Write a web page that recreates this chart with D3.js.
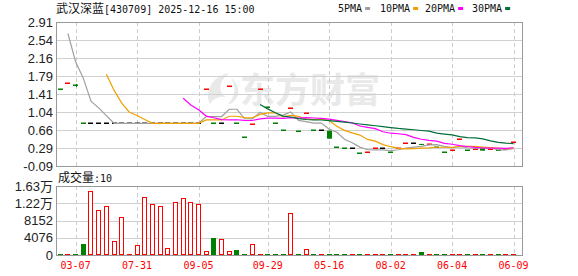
<!DOCTYPE html>
<html><head><meta charset="utf-8">
<script src="https://cdn.jsdelivr.net/npm/d3@7"></script>
<style>body{margin:0;background:#fff;} svg{display:block}</style>
</head><body><svg id="c" width="578" height="276"></svg>
<script>
// ---------- data ----------
const titleName = "武汉深蓝";
const titleRest = "[430709] 2025-12-16 15:00";
const volTitle = "成交量";
const volTitleRest = ":10";
const maNames = ["5PMA", "10PMA", "20PMA", "30PMA"];

const tickIndex = [2, 10, 18, 27, 35, 43, 51, 59];
const tickLabels = ["03-07", "07-31", "09-05", "09-29", "05-16", "08-02", "06-04", "06-09"];

const priceTicks = [2.91, 2.535, 2.16, 1.785, 1.41, 1.035, 0.66, 0.285, -0.09];
const priceTickLabels = ["2.91", "2.54", "2.16", "1.79", "1.41", "1.04", "0.66", "0.29", "-0.09"];
const volTicks = [16304, 12228, 8152, 4076, 0];
const volTickLabels = ["1.63万", "1.22万", "8152", "4076", "0"];

const closes = [1.50, 1.62, 1.59, 0.80, 0.80, 0.80, 0.80, 0.80, 0.80, 0.80,
  0.80, 0.80, 0.80, 0.80, 0.80, 0.80, 0.80, 0.80, 0.80, 1.50,
  0.80, 0.80, 1.56, 0.80, 0.51, 0.78, 1.50, 1.13, 0.80, 0.64,
  1.11, 0.62, 1.01, 0.64, 0.64, 0.48, 0.30, 0.28, 0.28, 0.18,
  0.20, 0.28, 0.28, 0.20, 0.28, 0.38, 0.38, 0.35, 0.36, 0.30,
  0.20, 0.24, 0.47, 0.24, 0.26, 0.23, 0.26, 0.24, 0.25, 0.40];
const opens = [1.50, 1.62, 1.59, 0.80, 0.80, 0.80, 0.80, 0.80, 0.80, 0.80,
  0.80, 0.80, 0.80, 0.80, 0.80, 0.80, 0.80, 0.80, 0.80, 1.50,
  0.80, 0.80, 1.56, 0.80, 0.51, 0.78, 1.50, 1.13, 0.80, 0.64,
  1.11, 0.62, 1.01, 0.64, 0.64, 0.645, 0.30, 0.28, 0.28, 0.18,
  0.20, 0.28, 0.28, 0.20, 0.28, 0.38, 0.38, 0.37, 0.36, 0.30,
  0.20, 0.24, 0.47, 0.24, 0.26, 0.285, 0.26, 0.24, 0.25, 0.40];
const highs = [1.50, 1.62, 1.62, 0.80, 0.80, 0.80, 0.80, 0.80, 0.80, 0.80,
  0.80, 0.80, 0.80, 0.80, 0.80, 0.80, 0.80, 0.80, 0.80, 1.50,
  0.80, 0.80, 1.56, 0.80, 0.51, 0.78, 1.50, 1.13, 0.80, 0.64,
  1.11, 0.62, 1.01, 0.64, 0.64, 0.645, 0.30, 0.28, 0.28, 0.18,
  0.20, 0.28, 0.28, 0.20, 0.28, 0.38, 0.38, 0.37, 0.36, 0.30,
  0.20, 0.24, 0.47, 0.24, 0.26, 0.285, 0.26, 0.24, 0.25, 0.40];
const lows = [1.50, 1.62, 1.555, 0.80, 0.80, 0.80, 0.80, 0.80, 0.80, 0.80,
  0.80, 0.80, 0.80, 0.80, 0.80, 0.80, 0.80, 0.80, 0.80, 1.50,
  0.80, 0.80, 1.56, 0.80, 0.51, 0.78, 1.50, 1.13, 0.80, 0.64,
  1.11, 0.62, 1.01, 0.64, 0.64, 0.48, 0.30, 0.28, 0.28, 0.18,
  0.20, 0.28, 0.28, 0.20, 0.28, 0.38, 0.38, 0.35, 0.36, 0.30,
  0.20, 0.24, 0.47, 0.24, 0.26, 0.23, 0.26, 0.24, 0.25, 0.40];
// 1 = up, -1 = down, 0 = unchanged
const direction = [-1, 1, -1, -1, 0, 0, 0, 0, 0, 0,
  0, 0, 0, 0, 0, 0, 0, 0, 0, 1,
  -1, 0, 1, -1, -1, 1, 1, -1, -1, -1,
  1, -1, 1, -1, 0, -1, -1, -1, 0, -1,
  1, 1, 0, -1, 1, 1, 0, -1, 1, -1,
  -1, 1, 1, -1, 1, -1, 1, -1, 1, 1];
const volumes = [150, 150, 150, 2533, 15037, 10526, 11476, 3403, 8864, 554,
  2453, 13613, 12109, 11476, 1741, 12426, 13375, 12426, 11951, 1029,
  3957, 3878, 870, 1108, 150, 2533, 150, 150, 150, 150,
  9813, 150, 1504, 150, 150, 150, 150, 150, 150, 150,
  150, 150, 150, 150, 150, 150, 150, 633, 150, 150,
  150, 150, 150, 150, 150, 150, 150, 150, 150, 150];

const ma5 = [null, 2.67, 2.08, 1.74, 1.262, 1.122, 0.958, 0.80, 0.80, 0.80,
  0.80, 0.80, 0.80, 0.80, 0.80, 0.80, 0.80, 0.80, 0.80, 0.94,
  0.94, 0.94, 1.092, 1.092, 0.894, 0.89, 1.03, 0.944, 0.944, 0.97,
  1.036, 0.86, 0.836, 0.804, 0.804, 0.678, 0.614, 0.468, 0.396, 0.304,
  0.248, 0.244, 0.244, 0.228, 0.248, 0.284, 0.304, 0.318, 0.35, 0.354,
  0.318, 0.29, 0.314, 0.29, 0.282, 0.288, 0.292, 0.246, 0.248, 0.276];
const ma10 = [null, null, null, null, null, null, 1.82, 1.49, 1.22, 1.031,
  0.961, 0.879, 0.80, 0.80, 0.80, 0.80, 0.80, 0.80, 0.80, 0.87,
  0.87, 0.87, 0.946, 0.946, 0.917, 0.915, 0.985, 1.018, 1.018, 0.932,
  0.963, 0.945, 0.89, 0.874, 0.887, 0.857, 0.737, 0.652, 0.60, 0.554,
  0.463, 0.429, 0.356, 0.312, 0.276, 0.266, 0.274, 0.281, 0.289, 0.301,
  0.301, 0.297, 0.316, 0.32, 0.318, 0.303, 0.291, 0.28, 0.269, 0.279];
const ma20 = [null, null, null, null, null, null, null, null, null, null,
  null, null, null, null, null, null, 1.32, 1.18, 1.08, 0.95,
  0.916, 0.875, 0.873, 0.873, 0.859, 0.858, 0.893, 0.909, 0.909, 0.901,
  0.917, 0.908, 0.918, 0.91, 0.902, 0.886, 0.861, 0.835, 0.809, 0.743,
  0.713, 0.687, 0.623, 0.593, 0.582, 0.562, 0.506, 0.467, 0.445, 0.428,
  0.382, 0.363, 0.336, 0.316, 0.297, 0.285, 0.283, 0.281, 0.279, 0.29];
const ma30 = [null, null, null, null, null, null, null, null, null, null,
  null, null, null, null, null, null, null, null, null, null,
  null, null, null, null, null, null, 1.19, 1.10, 1.02, 0.95,
  0.931, 0.898, 0.879, 0.873, 0.868, 0.857, 0.841, 0.823, 0.806, 0.785,
  0.765, 0.748, 0.731, 0.711, 0.693, 0.679, 0.665, 0.650, 0.636, 0.596,
  0.576, 0.557, 0.521, 0.502, 0.494, 0.475, 0.434, 0.404, 0.386, 0.378];

// ---------- drawing ----------
const maSeries = [ma5, ma10, ma20, ma30];
const maColors = ["#a0a0a0", "#f0a000", "#ff00ff", "#00703c"];
const RED = "#ff0000", GREEN = "#008000", BLACK = "#000000";
const CJK = "'Noto Sans CJK SC', sans-serif";
const MONO = "'DejaVu Sans Mono', monospace";
const SANS = "'Liberation Sans', Arial, 'Noto Sans CJK SC', sans-serif";

const L = 56, R = 522, PT = 22, PB = 166, VT = 186, VB = 255;
const svg = d3.select("#c");
const barIndex = d3.range(closes.length);

const x = d3.scaleBand().domain(barIndex).range([56.4, 517.4]);
const cx = i => x(i) + x.bandwidth() / 2;
const y = d3.scaleLinear().domain([-0.09, 2.91]).range([PB, PT]);
const yv = d3.scaleLinear().domain([0, 16304]).range([VB, VT]);

// watermark
const wm = svg.append("g").attr("fill", "#e9e9e9");
wm.append("text").attr("x", 240).attr("y", 103)
  .attr("font-family", CJK).attr("font-weight", "bold").attr("font-size", 35)
  .text("东方财富");
wm.append("path")
  .attr("d", "M229,73 C212,76 204,92 210,104 C214,98 220,96 226,97 C218,92 218,82 229,73 Z M231,78 C236,86 236,96 228,104 C234,104 240,96 238,88 C237,84 234,80 231,78 Z");

// grids
const grid = svg.append("g");
priceTicks.slice(1, -1).forEach(t => {
  grid.append("line").attr("x1", L).attr("x2", R)
    .attr("y1", Math.round(y(t)) + 0.5).attr("y2", Math.round(y(t)) + 0.5)
    .attr("stroke", "#d0d0d0");
});
volTicks.slice(1, -1).forEach(t => {
  grid.append("line").attr("x1", L).attr("x2", R)
    .attr("y1", Math.round(yv(t)) + 0.5).attr("y2", Math.round(yv(t)) + 0.5)
    .attr("stroke", "#d0d0d0");
});
tickIndex.forEach(i => {
  const xx = Math.round(cx(i)) + 0.5;
  [[PT, PB], [VT, VB]].forEach(([a, b]) => {
    grid.append("line").attr("x1", xx).attr("x2", xx).attr("y1", a).attr("y2", b)
      .attr("stroke", "#cccccc").attr("stroke-dasharray", "4,3");
  });
});

// frames
[[PT, PB], [VT, VB]].forEach(([a, b]) => {
  svg.append("rect").attr("x", L + 0.5).attr("y", a + 0.5)
    .attr("width", R - L).attr("height", b - a)
    .attr("fill", "none").attr("stroke", "#999999");
});

// candles
const colorOf = i => {
  if (closes[i] > opens[i]) return RED;
  if (closes[i] < opens[i]) return GREEN;
  return direction[i] > 0 ? RED : direction[i] < 0 ? GREEN : BLACK;
};
const cg = svg.append("g");
barIndex.forEach(i => {
  const c = colorOf(i);
  const xl = Math.round(cx(i) - 2.5);
  if (highs[i] > lows[i]) {
    cg.append("line").attr("x1", Math.round(cx(i)) + 0.5).attr("x2", Math.round(cx(i)) + 0.5)
      .attr("y1", y(highs[i])).attr("y2", y(lows[i])).attr("stroke", c);
  }
  if (opens[i] === closes[i]) {
    cg.append("rect").attr("x", xl).attr("y", Math.floor(y(closes[i])) - 0.5)
      .attr("width", 5).attr("height", 1.5).attr("fill", c);
  } else {
    const top = y(Math.max(opens[i], closes[i])), bot = y(Math.min(opens[i], closes[i]));
    cg.append("rect").attr("x", xl).attr("y", top)
      .attr("width", 5).attr("height", Math.max(1, bot - top)).attr("fill", c);
  }
});

// MA lines (on top of candles)
const line = d3.line().defined(d => d != null).x((d, i) => cx(i)).y(d => y(d));
maSeries.forEach((s, k) => {
  svg.append("path").datum(s).attr("d", line)
    .attr("fill", "none").attr("stroke", maColors[k]).attr("stroke-width", 1.2);
});

// volume bars
const vg = svg.append("g");
barIndex.forEach(i => {
  const up = direction[i] >= 0;
  const top = Math.round(yv(volumes[i]));
  const h = Math.max(1, VB - top);
  const xl = Math.round(cx(i) - 2.5);
  if (up) {
    if (h <= 2) {
      vg.append("rect").attr("x", xl).attr("y", VB - 1).attr("width", 5).attr("height", 1).attr("fill", RED);
    } else {
      vg.append("rect").attr("x", xl + 0.5).attr("y", top + 0.5)
        .attr("width", 4).attr("height", h - 1)
        .attr("fill", "#fff").attr("stroke", RED);
    }
  } else {
    vg.append("rect").attr("x", xl).attr("y", VB - h).attr("width", 5).attr("height", h).attr("fill", GREEN);
  }
});

// axes
const ay = svg.append("g").attr("transform", `translate(${L},0)`)
  .call(d3.axisLeft(y).tickValues(priceTicks).tickSize(0).tickPadding(3)
    .tickFormat((d, i) => priceTickLabels[i]));
const av = svg.append("g").attr("transform", `translate(${L},0)`)
  .call(d3.axisLeft(yv).tickValues(volTicks).tickSize(0).tickPadding(3)
    .tickFormat((d, i) => volTickLabels[i]));
[ay, av].forEach(g => {
  g.select(".domain").remove();
  g.selectAll("text").attr("font-family", SANS).attr("font-size", 13).attr("fill", "#222");
});
const ax = svg.append("g").attr("transform", `translate(0,${VB})`)
  .call(d3.axisBottom(x).tickValues(tickIndex).tickSize(0).tickPadding(7)
    .tickFormat(d => tickLabels[tickIndex.indexOf(d)]));
ax.select(".domain").remove();
ax.selectAll("text").attr("font-family", MONO).attr("font-size", 10).attr("fill", RED);

// header
const hd = svg.append("text").attr("x", 56).attr("y", 13).attr("fill", "#111");
hd.append("tspan").attr("font-family", CJK).attr("font-size", 12).text(titleName);
hd.append("tspan").attr("font-family", MONO).attr("font-size", 10).text(titleRest);

const vt = svg.append("text").attr("x", 58).attr("y", 182).attr("fill", "#111");
vt.append("tspan").attr("font-family", CJK).attr("font-size", 12).text(volTitle);
vt.append("tspan").attr("font-family", MONO).attr("font-size", 10).text(volTitleRest);

// legend
const legX = [338, 380, 425, 472];
maNames.forEach((n, k) => {
  const t = svg.append("text").attr("x", legX[k]).attr("y", 12)
    .attr("font-family", MONO).attr("font-size", 10).attr("fill", "#111").text(n);
  const w = t.node().getComputedTextLength();
  svg.append("rect").attr("x", legX[k] + w + 3).attr("y", 7).attr("width", 5).attr("height", 3)
    .attr("fill", maColors[k]);
});
</script>
</body></html>
